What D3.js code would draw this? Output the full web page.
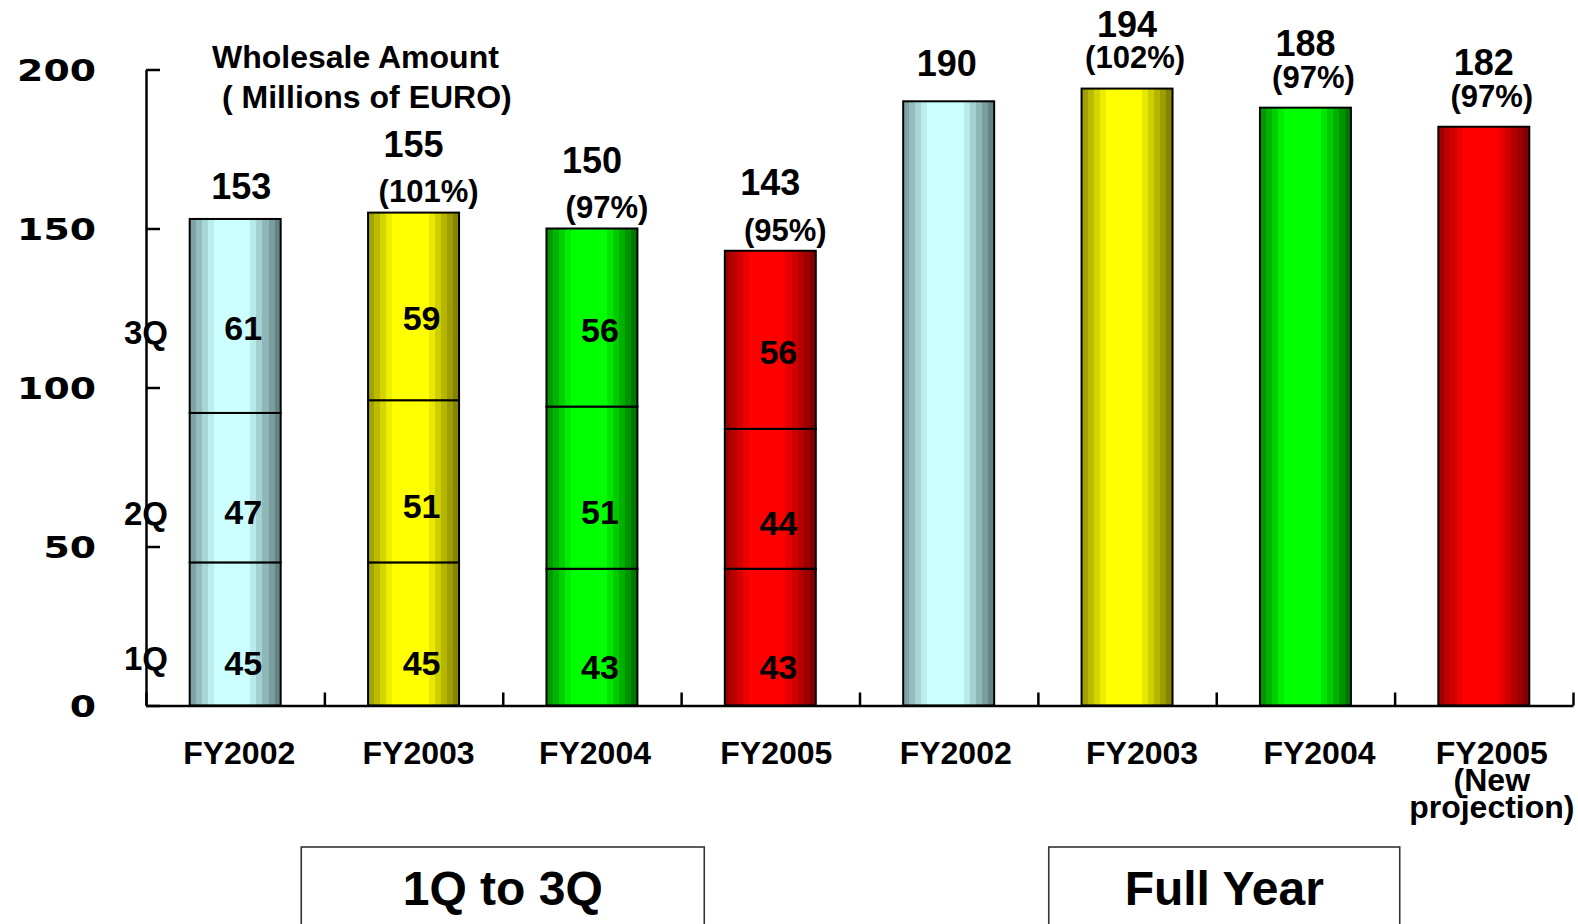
<!DOCTYPE html>
<html>
<head>
<meta charset="utf-8">
<script src="https://cdn.jsdelivr.net/npm/d3@7"></script>
<style>
  html, body { margin: 0; padding: 0; background: #fff; }
  svg { display: block; }
  text { font-family: "Liberation Sans", Arial, Helvetica, sans-serif; font-weight: bold; fill: #000; }
</style>
</head>
<body>
<svg id="chart" width="1578" height="924"></svg>
<script>
// ---- data ----
const fiscalYears = ["FY2002", "FY2003", "FY2004", "FY2005"];
const quarterNames = ["1Q", "2Q", "3Q"];
const q1Values = [45, 45, 43, 43];
const q2Values = [47, 51, 51, 44];
const q3Values = [61, 59, 56, 56];
const nineMonthTotals = [153, 155, 150, 143];
const nineMonthRatios = ["", "(101%)", "(97%)", "(95%)"];
const fullYearValues = [190, 194, 188, 182];
const fullYearRatios = ["", "(102%)", "(97%)", "(97%)"];
const nineMonthLabels = [["FY2002"], ["FY2003"], ["FY2004"], ["FY2005"]];
const fullYearLabels = [["FY2002"], ["FY2003"], ["FY2004"], ["FY2005", "(New", "projection)"]];
const groupTitles = ["1Q to 3Q", "Full Year"];
const yTickValues = [0, 50, 100, 150, 200];
const yTitleLines = ["Wholesale Amount", "( Millions of EURO)"];

// colour per fiscal year: shaded edge and lit centre of the cylinder-like bars
const palette = [
  { dark: "#5b7878", light: "#ccffff" },
  { dark: "#777700", light: "#ffff00" },
  { dark: "#006a00", light: "#00ff00" },
  { dark: "#770000", light: "#ff0000" }
];

// ---- layout ----
const svg = d3.select("#chart");
const axisX = 146, baseY = 705.5, topY = 69.5, rightX = 1573;

const y = d3.scaleLinear().domain([0, 200]).range([baseY, topY]);

const nineKeys = fiscalYears.map(f => "9M-" + f);
const fullKeys = fiscalYears.map(f => "FY-" + f);
const allKeys = nineKeys.concat(fullKeys);

const x = d3.scaleBand().domain(allKeys).range([axisX, rightX])
  .paddingInner(0.49).paddingOuter(0.245);
const xEdge = d3.scaleLinear().domain([0, allKeys.length]).range([axisX, rightX]);

// small horizontal nudges of the category captions
const captionNudge = new Map();
[4, 5, 3, 6].forEach((v, i) => captionNudge.set(nineKeys[i], v));
[7, 15, 14, 8].forEach((v, i) => captionNudge.set(fullKeys[i], v));

// ---- gradients (stepped horizontal shading) ----
const defs = svg.append("defs");
const steps = 15;
function shade(t) {
  const d = Math.abs(t - 0.46) / 0.54;
  return Math.max(0, Math.min(1, (1 - d) * 1.5));
}
palette.forEach((p, i) => {
  const grad = defs.append("linearGradient")
    .attr("id", "grad" + i)
    .attr("x1", 0).attr("x2", 1).attr("y1", 0).attr("y2", 0);
  const mix = d3.interpolateRgb(p.dark, p.light);
  for (let s = 0; s < steps; s++) {
    const a = s / steps, b = (s + 1) / steps;
    const c = mix(shade((a + b) / 2));
    grad.append("stop").attr("offset", a).attr("stop-color", c);
    grad.append("stop").attr("offset", b).attr("stop-color", c);
  }
});

// ---- stacked 1Q-3Q bars ----
const rows = fiscalYears.map((f, i) => ({
  key: nineKeys[i], idx: i, "1Q": q1Values[i], "2Q": q2Values[i], "3Q": q3Values[i]
}));
const series = d3.stack().keys(quarterNames)(rows);
// value captions sit a little below the middle of their segment (in axis units)
const captionOffset = [-9.3, -7.7, -3.8];

const stackG = svg.append("g");
series.forEach(s => {
  stackG.selectAll(null).data(s).join("rect")
    .attr("x", d => x(d.data.key))
    .attr("width", x.bandwidth())
    .attr("y", d => y(d[1]))
    .attr("height", d => y(d[0]) - y(d[1]))
    .attr("fill", d => `url(#grad${d.data.idx})`)
    .attr("stroke", "#000").attr("stroke-width", 2);
});
series.forEach((s, si) => {
  stackG.selectAll(null).data(s).join("text")
    .attr("x", d => x(d.data.key) + x.bandwidth() / 2 + 8)
    .attr("y", d => y((d[0] + d[1]) / 2 + captionOffset[si]))
    .attr("dy", "0.35em")
    .attr("text-anchor", "middle")
    .style("font-size", "34px")
    .text(d => d.data[s.key]);
});

// ---- full-year bars ----
const fullG = svg.append("g");
fullG.selectAll("rect").data(fullYearValues).join("rect")
  .attr("x", (d, i) => x(fullKeys[i]))
  .attr("width", x.bandwidth())
  .attr("y", d => y(d))
  .attr("height", d => baseY - y(d))
  .attr("fill", (d, i) => `url(#grad${i})`)
  .attr("stroke", "#000").attr("stroke-width", 2);

// ---- totals and ratios above the bars ----
function topLabels(keys, values, ratios, o) {
  const g = svg.append("g");
  g.selectAll("text.val").data(values).join("text")
    .attr("class", "val")
    .attr("x", (d, i) => x(keys[i]) + x.bandwidth() / 2 + (ratios[i] ? 0 : o.plainShift))
    .attr("y", (d, i) => y(d) - (ratios[i] ? o.valueGap : o.plainGap))
    .attr("dy", "0.35em").attr("text-anchor", "middle")
    .style("font-size", "36px")
    .text(d => d);
  g.selectAll("text.ratio").data(ratios).join("text")
    .attr("class", "ratio")
    .attr("x", (d, i) => x(keys[i]) + x.bandwidth() / 2 + o.ratioShift)
    .attr("y", (d, i) => y(values[i]) - o.ratioGap)
    .attr("dy", "0.35em").attr("text-anchor", "middle")
    .style("font-size", "31px")
    .text(d => d);
}
topLabels(nineKeys, nineMonthTotals, nineMonthRatios,
  { plainGap: 33, plainShift: 6, valueGap: 68, ratioGap: 21, ratioShift: 15 });
topLabels(fullKeys, fullYearValues, fullYearRatios,
  { plainGap: 38, plainShift: -2, valueGap: 64, ratioGap: 31, ratioShift: 8 });

// ---- y axis ----
const yAxisG = svg.append("g")
  .attr("transform", `translate(${axisX},0)`)
  .call(d3.axisLeft(y).tickValues(yTickValues).tickSizeInner(-14).tickSizeOuter(0).tickPadding(50));
yAxisG.attr("font-family", null).attr("font-size", null);
yAxisG.select(".domain").attr("stroke", "#000").attr("stroke-width", 2.5);
yAxisG.selectAll(".tick line").attr("stroke", "#000").attr("stroke-width", 2.5);
yAxisG.selectAll(".tick text")
  .style("font-family", "'DejaVu Sans', sans-serif")
  .style("font-weight", "bold")
  .style("font-size", "30px")
  .attr("dy", "0.36em")
  .attr("textLength", d => String(d).length * 26.3)
  .attr("lengthAdjust", "spacingAndGlyphs");

// ---- x axis: baseline with ticks between categories ----
const xAxisG = svg.append("g")
  .attr("transform", `translate(0,${baseY})`)
  .call(d3.axisBottom(xEdge).tickValues(d3.range(allKeys.length + 1))
    .tickSizeInner(-13).tickSizeOuter(0).tickFormat(""));
xAxisG.select(".domain").attr("stroke", "#000").attr("stroke-width", 2.5);
xAxisG.selectAll(".tick line").attr("stroke", "#000").attr("stroke-width", 2.5);

// ---- category captions ----
const labelLines = new Map();
nineKeys.forEach((k, i) => labelLines.set(k, nineMonthLabels[i]));
fullKeys.forEach((k, i) => labelLines.set(k, fullYearLabels[i]));

const catG = svg.append("g")
  .attr("transform", `translate(0,${baseY})`)
  .call(d3.axisBottom(x).tickSize(0).tickPadding(36).tickFormat(k => labelLines.get(k)[0]));
catG.attr("font-family", null).attr("font-size", null);
catG.select(".domain").remove();
catG.selectAll(".tick text")
  .style("font-size", "32px")
  .each(function (k) {
    const lines = labelLines.get(k);
    const t = d3.select(this).text(null).attr("x", captionNudge.get(k));
    lines.forEach((line, li) => {
      t.append("tspan").attr("x", captionNudge.get(k))
        .attr("dy", li === 0 ? null : "0.84em").text(line);
    });
  });

// ---- quarter names beside the axis, level with the first column's segments ----
const quarterNamePos = [0.32, 0.32, 0.41];
svg.append("g").selectAll("text").data(series).join("text")
  .attr("x", axisX)
  .attr("y", (s, si) => y(s[0][0] + quarterNamePos[si] * (s[0][1] - s[0][0])) - 1)
  .attr("dy", "0.35em").attr("text-anchor", "middle")
  .style("font-size", "33px")
  .text(s => s.key);

// ---- axis title ----
svg.append("text")
  .attr("y", 57)
  .style("font-size", "32px")
  .selectAll("tspan").data(yTitleLines).join("tspan")
  .attr("x", (d, i) => i === 0 ? 212 : 222)
  .attr("dy", (d, i) => i === 0 ? "0.35em" : "1.25em")
  .text(d => d);

// ---- group boxes under the axis ----
const groups = [
  { keys: nineKeys, width: 403, shift: 0 },
  { keys: fullKeys, width: 351, shift: 8 }
];
const boxG = svg.append("g");
groups.forEach((gr, gi) => {
  const first = x(gr.keys[0]) + x.bandwidth() / 2;
  const last = x(gr.keys[gr.keys.length - 1]) + x.bandwidth() / 2;
  const cx = (first + last) / 2 + gr.shift;
  boxG.append("rect")
    .attr("x", cx - gr.width / 2).attr("y", 847)
    .attr("width", gr.width).attr("height", 100)
    .attr("fill", "none").attr("stroke", "#333").attr("stroke-width", 1.6);
  boxG.append("text")
    .attr("x", cx).attr("y", 888).attr("dy", "0.35em")
    .attr("text-anchor", "middle")
    .style("font-size", "48px")
    .text(groupTitles[gi]);
});
</script>
</body>
</html>
